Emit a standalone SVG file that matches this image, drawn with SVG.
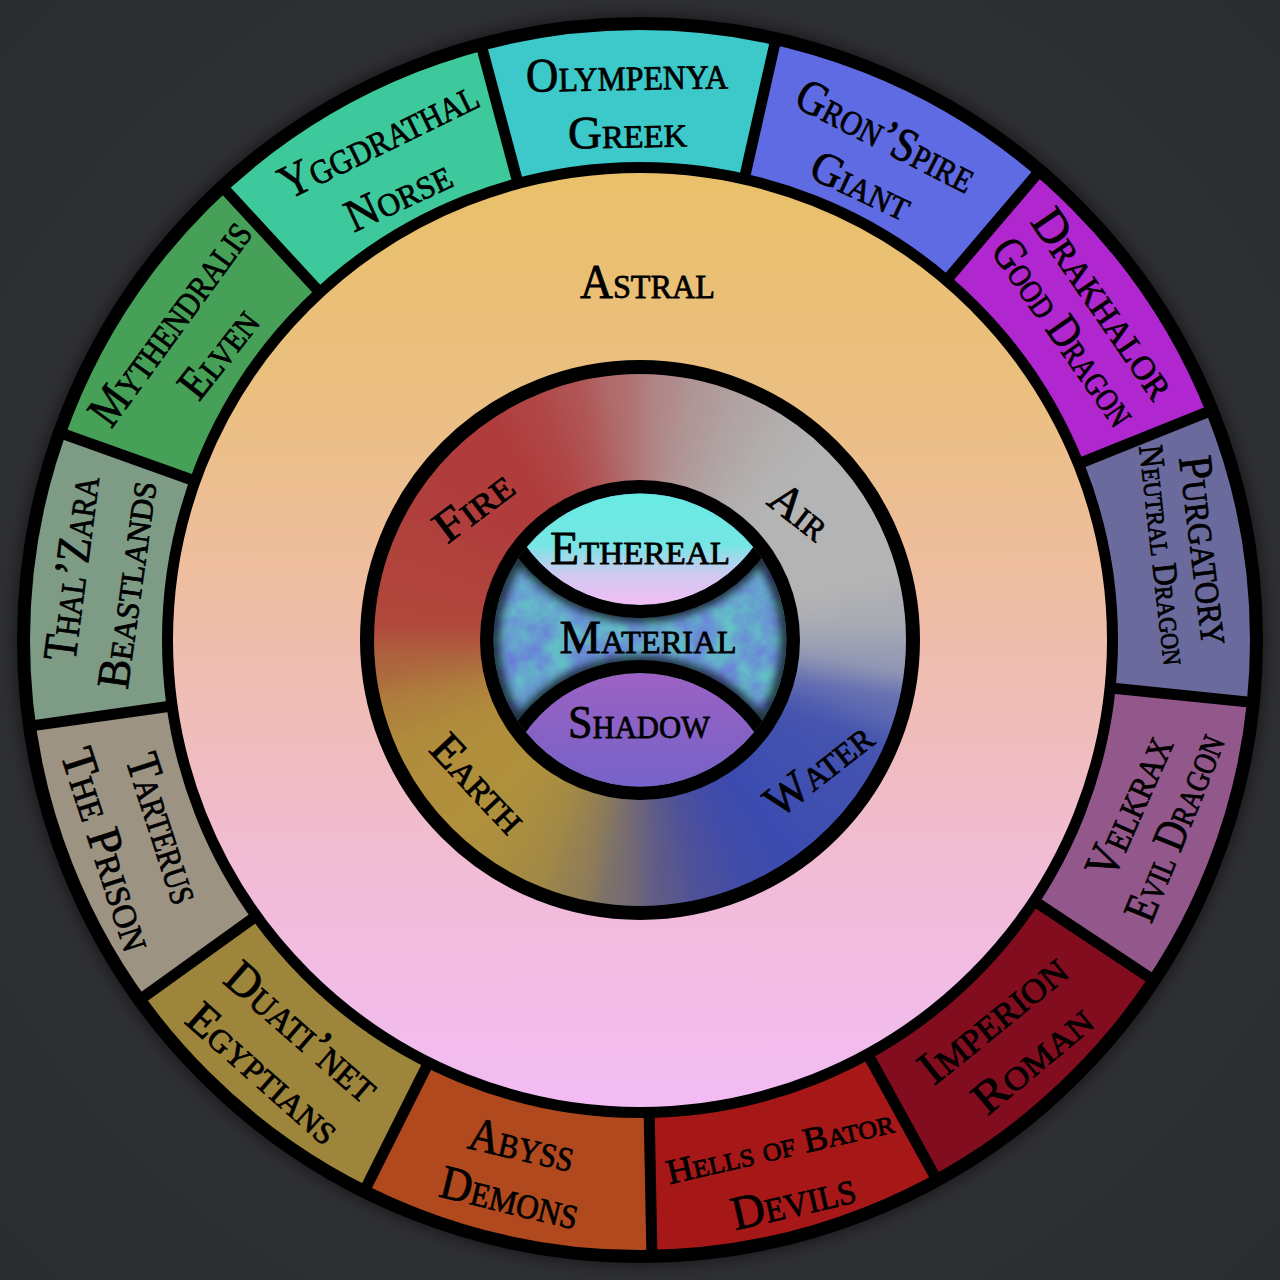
<svg xmlns="http://www.w3.org/2000/svg" width="1280" height="1280" viewBox="0 0 1280 1280">
<defs>
<style>
.t{font-family:"Liberation Serif","DejaVu Serif",serif;font-variant:small-caps;fill:#000;stroke:#000;stroke-width:0.8;stroke-linejoin:round;text-anchor:middle;dominant-baseline:central;}
.l{font-size:48px}
.m{font-size:46px}
.s{font-size:35px}
</style>
<radialGradient id="bg" cx="640" cy="640" r="905" gradientUnits="userSpaceOnUse">
<stop offset="0" stop-color="#36383c"/>
<stop offset="1" stop-color="#2b2c30"/>
</radialGradient>
<linearGradient id="astralG" x1="0" y1="173" x2="0" y2="1107" gradientUnits="userSpaceOnUse">
<stop offset="0" stop-color="#e9c06a"/>
<stop offset="0.25" stop-color="#ebbf82"/>
<stop offset="0.5" stop-color="#efbdab"/>
<stop offset="0.75" stop-color="#f1bcd6"/>
<stop offset="1" stop-color="#f2bcf4"/>
</linearGradient>
<linearGradient id="ethG" x1="0" y1="494" x2="0" y2="606" gradientUnits="userSpaceOnUse">
<stop offset="0" stop-color="#68ebe2"/>
<stop offset="0.45" stop-color="#74e6e4"/>
<stop offset="0.7" stop-color="#cccaf0"/>
<stop offset="1" stop-color="#f4bcf4"/>
</linearGradient>
<linearGradient id="shaG" x1="0" y1="673" x2="0" y2="786" gradientUnits="userSpaceOnUse">
<stop offset="0" stop-color="#9c62c2"/>
<stop offset="1" stop-color="#7662c8"/>
</linearGradient>
<filter id="noise" x="480" y="480" width="320" height="320" filterUnits="userSpaceOnUse" color-interpolation-filters="sRGB">
<feTurbulence type="fractalNoise" baseFrequency="0.042" numOctaves="3" seed="4"/>
<feColorMatrix type="matrix" values="-0.04 0 0 0 0.42  0.44 0 0 0 0.42  -0.12 0 0 0 0.87  0 0 0 0 1"/>
</filter>
<filter id="soft" color-interpolation-filters="sRGB"><feGaussianBlur stdDeviation="12"/></filter>
<filter id="edgeBlur" x="-20%" y="-20%" width="140%" height="140%"><feGaussianBlur stdDeviation="4"/></filter>
<filter id="halo" x="-10%" y="-10%" width="120%" height="120%"><feGaussianBlur stdDeviation="8"/></filter>
<clipPath id="ringClip"><circle cx="640" cy="640" r="268"/></clipPath>
<clipPath id="coreClip"><circle cx="640" cy="640" r="146.5"/></clipPath>
<path id="sector" d="M-147.89 -600.04A618 618 0 0 1 147.89 -600.04L112.48 -456.34A470 470 0 0 0 -112.48 -456.34Z"/>
<path id="wedge" d="M0 0L-27.71 -298.72A300 300 0 0 1 27.71 -298.72Z"/>
<line id="divider" x1="0" y1="-471" x2="0" y2="-620"/>
</defs>

<rect id="background" x="0" y="0" width="1280" height="1280" fill="url(#bg)"/>
<circle cx="640" cy="640" r="626" fill="#000" opacity="0.45" filter="url(#halo)"/>

<g id="outer-ring">
<g id="seg-olympenya"><use href="#sector" transform="translate(640 640) rotate(-1.10)" fill="#3dc9c9"/>
<text class="t l" transform="translate(627 73.5) rotate(-1)" textLength="202" lengthAdjust="spacingAndGlyphs">Olympenya</text>
<text class="t m" transform="translate(627.5 132) rotate(-1)" textLength="119" lengthAdjust="spacingAndGlyphs">Greek</text></g>
<g id="seg-gronspire"><use href="#sector" transform="translate(640 640) rotate(26.59)" fill="#5f6be3"/>
<text class="t l" transform="translate(886.5 135) rotate(27)" textLength="195" lengthAdjust="spacingAndGlyphs">Gron’Spire</text>
<text class="t m" transform="translate(861.5 185) rotate(25)" textLength="106" lengthAdjust="spacingAndGlyphs">Giant</text></g>
<g id="seg-drakhalor"><use href="#sector" transform="translate(640 640) rotate(54.28)" fill="#b027cf"/>
<text class="t l" transform="translate(1105 303) rotate(55.5)" textLength="219" lengthAdjust="spacingAndGlyphs">Drakhalor</text>
<text class="t m" transform="translate(1065 331.5) rotate(55)" textLength="218" lengthAdjust="spacingAndGlyphs">Good Dragon</text></g>
<g id="seg-purgatory"><use href="#sector" transform="translate(640 640) rotate(81.97)" fill="#6a6a9d"/>
<text class="t l" transform="translate(1207 550) rotate(83)" textLength="190" lengthAdjust="spacingAndGlyphs">Purgatory</text>
<text class="t s" transform="translate(1163 555) rotate(83.5)" textLength="221" lengthAdjust="spacingAndGlyphs">Neutral Dragon</text></g>
<g id="seg-velkrax"><use href="#sector" transform="translate(640 640) rotate(109.66)" fill="#93588b"/>
<text class="t l" transform="translate(1128.3 806) rotate(-66)" textLength="150" lengthAdjust="spacingAndGlyphs">Velkrax</text>
<text class="t m" transform="translate(1174 827) rotate(-68)" textLength="198" lengthAdjust="spacingAndGlyphs">Evil Dragon</text></g>
<g id="seg-imperion"><use href="#sector" transform="translate(640 640) rotate(137.36)" fill="#820d1f"/>
<text class="t l" transform="translate(992 1018) rotate(-39)" textLength="176" lengthAdjust="spacingAndGlyphs">Imperion</text>
<text class="t m" transform="translate(1032 1059) rotate(-40)" textLength="142" lengthAdjust="spacingAndGlyphs">Roman</text></g>
<g id="seg-hells"><use href="#sector" transform="translate(640 640) rotate(165.05)" fill="#a61717"/>
<text class="t s" transform="translate(780 1147) rotate(-13)" textLength="232" lengthAdjust="spacingAndGlyphs">Hells of Bator</text>
<text class="t l" transform="translate(793 1200) rotate(-13)" textLength="126" lengthAdjust="spacingAndGlyphs">Devils</text></g>
<g id="seg-abyss"><use href="#sector" transform="translate(640 640) rotate(192.74)" fill="#b0491e"/>
<text class="t l" transform="translate(522 1144) rotate(13)" textLength="107" lengthAdjust="spacingAndGlyphs">Abyss</text>
<text class="t l" transform="translate(510 1197) rotate(13.7)" textLength="141" lengthAdjust="spacingAndGlyphs">Demons</text></g>
<g id="seg-duatinet"><use href="#sector" transform="translate(640 640) rotate(220.43)" fill="#9d853c"/>
<text class="t l" transform="translate(303 1031) rotate(41)" textLength="187" lengthAdjust="spacingAndGlyphs">Duati’net</text>
<text class="t m" transform="translate(264 1073) rotate(41.5)" textLength="188" lengthAdjust="spacingAndGlyphs">Egyptians</text></g>
<g id="seg-tarterus"><use href="#sector" transform="translate(640 640) rotate(248.12)" fill="#9c9383"/>
<text class="t l" transform="translate(165 828) rotate(72)" textLength="155" lengthAdjust="spacingAndGlyphs">Tarterus</text>
<text class="t l" transform="translate(108.3 849) rotate(72)" textLength="210" lengthAdjust="spacingAndGlyphs">The Prison</text></g>
<g id="seg-thalzara"><use href="#sector" transform="translate(640 640) rotate(275.81)" fill="#7e9b86"/>
<text class="t l" transform="translate(70.8 568) rotate(-82.5)" textLength="186" lengthAdjust="spacingAndGlyphs">Thal’Zara</text>
<text class="t m" transform="translate(126.7 584.7) rotate(-82)" textLength="209" lengthAdjust="spacingAndGlyphs">Beastlands</text></g>
<g id="seg-mythendralis"><use href="#sector" transform="translate(640 640) rotate(303.51)" fill="#46a058"/>
<text class="t l" transform="translate(169 322) rotate(-54)" textLength="242" lengthAdjust="spacingAndGlyphs">Mythendralis</text>
<text class="t m" transform="translate(218 353) rotate(-52)" textLength="101" lengthAdjust="spacingAndGlyphs">Elven</text></g>
<g id="seg-yggdrathal"><use href="#sector" transform="translate(640 640) rotate(331.20)" fill="#3ec99c"/>
<text class="t l" transform="translate(378 138) rotate(-26)" textLength="215" lengthAdjust="spacingAndGlyphs">Yggdrathal</text>
<text class="t m" transform="translate(398 195) rotate(-25)" textLength="112" lengthAdjust="spacingAndGlyphs">Norse</text></g>
</g>

<g id="astral">
<circle cx="640" cy="640" r="468" fill="url(#astralG)"/>
<text class="t l" x="647.5" y="281.5" textLength="135" lengthAdjust="spacingAndGlyphs">Astral</text>
</g>

<g id="ring-borders" fill="none" stroke="#000">
<circle cx="640" cy="640" r="616.5" stroke-width="13"/>
<circle cx="640" cy="640" r="472.5" stroke-width="11"/>
</g>

<g id="dividers" stroke="#000" stroke-width="11">
<use href="#divider" transform="translate(640 640) rotate(-14.95)"/>
<use href="#divider" transform="translate(640 640) rotate(12.74)"/>
<use href="#divider" transform="translate(640 640) rotate(40.43)"/>
<use href="#divider" transform="translate(640 640) rotate(68.12)"/>
<use href="#divider" transform="translate(640 640) rotate(95.82)"/>
<use href="#divider" transform="translate(640 640) rotate(123.51)"/>
<use href="#divider" transform="translate(640 640) rotate(151.20)"/>
<use href="#divider" transform="translate(640 640) rotate(178.89)"/>
<use href="#divider" transform="translate(640 640) rotate(206.58)"/>
<use href="#divider" transform="translate(640 640) rotate(234.28)"/>
<use href="#divider" transform="translate(640 640) rotate(261.97)"/>
<use href="#divider" transform="translate(640 640) rotate(289.66)"/>
<use href="#divider" transform="translate(640 640) rotate(317.35)"/>
</g>

<g id="elements">
<g clip-path="url(#ringClip)"><g filter="url(#soft)"><g transform="translate(640 640)">
<use href="#wedge" transform="rotate(5)" fill="rgb(176,136,136)"/>
<use href="#wedge" transform="rotate(15)" fill="rgb(176,152,152)"/>
<use href="#wedge" transform="rotate(25)" fill="rgb(177,165,165)"/>
<use href="#wedge" transform="rotate(35)" fill="rgb(179,175,175)"/>
<use href="#wedge" transform="rotate(45)" fill="rgb(180,180,180)"/>
<use href="#wedge" transform="rotate(55)" fill="rgb(180,180,180)"/>
<use href="#wedge" transform="rotate(65)" fill="rgb(180,180,180)"/>
<use href="#wedge" transform="rotate(75)" fill="rgb(180,180,180)"/>
<use href="#wedge" transform="rotate(85)" fill="rgb(170,172,180)"/>
<use href="#wedge" transform="rotate(95)" fill="rgb(150,155,180)"/>
<use href="#wedge" transform="rotate(105)" fill="rgb(97,108,177)"/>
<use href="#wedge" transform="rotate(115)" fill="rgb(69,84,175)"/>
<use href="#wedge" transform="rotate(125)" fill="rgb(66,81,175)"/>
<use href="#wedge" transform="rotate(135)" fill="rgb(63,79,176)"/>
<use href="#wedge" transform="rotate(145)" fill="rgb(59,75,176)"/>
<use href="#wedge" transform="rotate(155)" fill="rgb(64,76,170)"/>
<use href="#wedge" transform="rotate(165)" fill="rgb(75,79,157)"/>
<use href="#wedge" transform="rotate(175)" fill="rgb(93,90,137)"/>
<use href="#wedge" transform="rotate(185)" fill="rgb(120,110,110)"/>
<use href="#wedge" transform="rotate(195)" fill="rgb(147,127,83)"/>
<use href="#wedge" transform="rotate(205)" fill="rgb(164,138,68)"/>
<use href="#wedge" transform="rotate(215)" fill="rgb(172,143,63)"/>
<use href="#wedge" transform="rotate(225)" fill="rgb(176,144,60)"/>
<use href="#wedge" transform="rotate(235)" fill="rgb(176,142,60)"/>
<use href="#wedge" transform="rotate(245)" fill="rgb(176,141,60)"/>
<use href="#wedge" transform="rotate(255)" fill="rgb(174,128,61)"/>
<use href="#wedge" transform="rotate(265)" fill="rgb(173,101,62)"/>
<use href="#wedge" transform="rotate(275)" fill="rgb(176,70,60)"/>
<use href="#wedge" transform="rotate(285)" fill="rgb(176,68,60)"/>
<use href="#wedge" transform="rotate(295)" fill="rgb(176,65,60)"/>
<use href="#wedge" transform="rotate(305)" fill="rgb(176,62,60)"/>
<use href="#wedge" transform="rotate(315)" fill="rgb(176,60,60)"/>
<use href="#wedge" transform="rotate(325)" fill="rgb(176,60,60)"/>
<use href="#wedge" transform="rotate(335)" fill="rgb(176,68,68)"/>
<use href="#wedge" transform="rotate(345)" fill="rgb(176,83,83)"/>
<use href="#wedge" transform="rotate(355)" fill="rgb(176,109,109)"/>
</g></g></g>
<circle cx="640" cy="640" r="273" fill="none" stroke="#000" stroke-width="14"/>
<g id="fire"><text class="t m" transform="translate(473 506) rotate(-37)" textLength="88" lengthAdjust="spacingAndGlyphs">Fire</text></g>
<g id="air"><text class="t m" transform="translate(800 511) rotate(38)" textLength="64" lengthAdjust="spacingAndGlyphs">Air</text></g>
<g id="earth"><text class="t m" transform="translate(479 783) rotate(47)" textLength="118" lengthAdjust="spacingAndGlyphs">Earth</text></g>
<g id="water"><text class="t m" transform="translate(818 769) rotate(-38)" textLength="124" lengthAdjust="spacingAndGlyphs">Water</text></g>
</g>

<g id="core">
<circle cx="640" cy="640" r="160" fill="#000"/>
<g clip-path="url(#coreClip)">
<rect id="material-fill" x="480" y="480" width="320" height="320" fill="#6080d0" filter="url(#noise)"/>
<g filter="url(#edgeBlur)" opacity="0.7" fill="none" stroke="#000">
<circle cx="640" cy="465" r="146.5" stroke-width="22"/>
<circle cx="640" cy="813" r="146.5" stroke-width="22"/>
<circle cx="640" cy="640" r="146.5" stroke-width="12"/>
</g>
<circle id="ethereal-fill" cx="640" cy="465" r="140" fill="url(#ethG)"/>
<circle id="shadow-fill" cx="640" cy="813" r="140" fill="url(#shaG)"/>
<circle cx="640" cy="465" r="146.5" fill="none" stroke="#000" stroke-width="13"/>
<circle cx="640" cy="813" r="146.5" fill="none" stroke="#000" stroke-width="13"/>
</g>
<g id="ethereal"><text class="t m" x="640" y="548" textLength="180" lengthAdjust="spacingAndGlyphs">Ethereal</text></g>
<g id="material"><text class="t m" x="648" y="637" textLength="177" lengthAdjust="spacingAndGlyphs">Material</text></g>
<g id="shadow"><text class="t m" x="639" y="722" textLength="142" lengthAdjust="spacingAndGlyphs">Shadow</text></g>
</g>
</svg>
